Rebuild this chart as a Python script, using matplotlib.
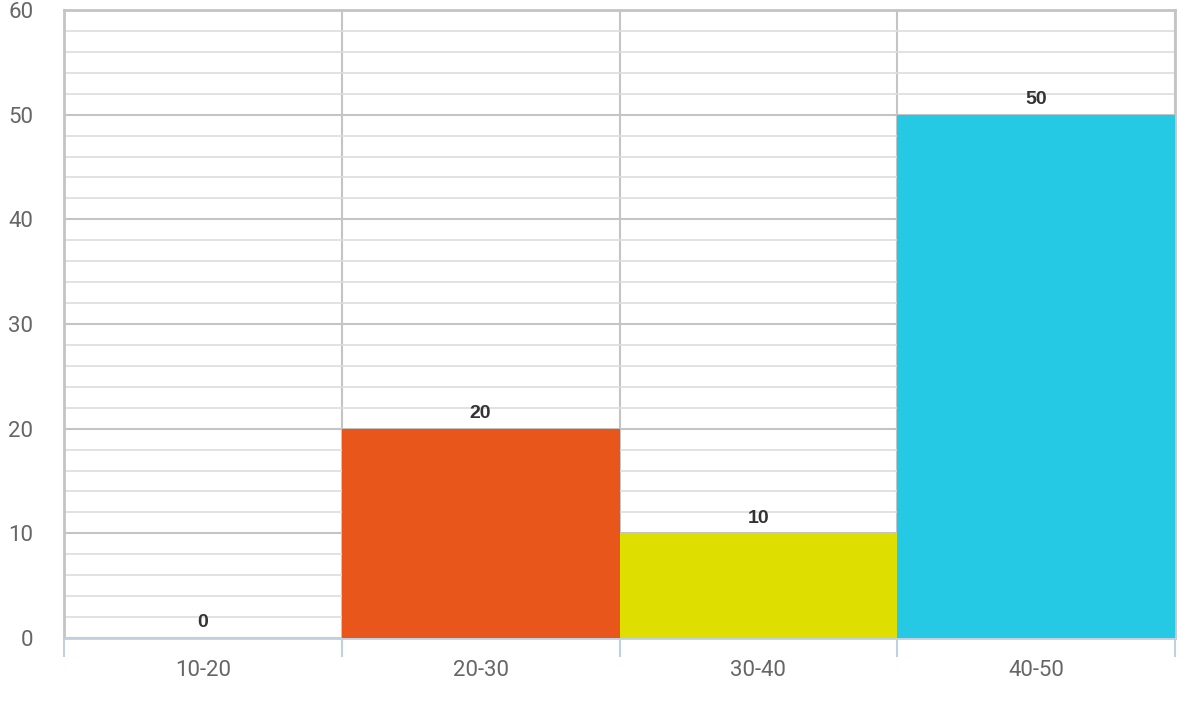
import matplotlib.pyplot as plt
import numpy as np

categories = ['10-20', '20-30', '30-40', '40-50']
values = [0, 20, 10, 50]
bar_colors = ['#c9dbe8', '#e9561c', '#dede00', '#25c9e3']

fig = plt.figure(figsize=(11.87, 7.01), dpi=100)
ax = fig.add_axes([64 / 1187, 1 - 638 / 701, (1175 - 64) / 1187, (638 - 10) / 701])

x = np.arange(len(categories))
bars = ax.bar(x, values, width=1.0, color=bar_colors, zorder=3, linewidth=0)

# value labels above each bar
for xi, v in zip(x, values):
    ax.annotate(str(v), (xi, v), xytext=(0, 11), textcoords='offset points',
                ha='center', va='center', fontsize=14, fontweight='bold',
                color='#333333', family='Liberation Sans', zorder=4)

ax.set_xlim(-0.5, len(categories) - 0.5)
ax.set_ylim(0, 60)

ax.set_yticks(np.arange(0, 61, 10))
ax.set_yticks(np.arange(0, 61, 2), minor=True)
ax.set_xticks(x)
ax.set_xticklabels(categories)
ax.set_xticks(np.arange(-0.5, len(categories)), minor=True)

ax.grid(axis='y', which='major', color='#c4c4c4', linewidth=1.5, zorder=0)
ax.grid(axis='y', which='minor', color='#dddddd', linewidth=1.2, zorder=0)
ax.grid(axis='x', which='minor', color='#c4c4c4', linewidth=1.5, zorder=0)

ax.tick_params(axis='y', which='both', length=0, pad=22, labelsize=16, labelcolor='#666666')
ax.tick_params(axis='x', which='major', length=0, pad=16, labelsize=16, labelcolor='#666666')
ax.tick_params(axis='x', which='minor', length=14, width=1.5, color='#c0d0e0')
for lbl in ax.get_xticklabels() + ax.get_yticklabels():
    lbl.set_fontfamily('Roboto')
for lbl in ax.get_yticklabels():
    lbl.set_horizontalalignment('right')

for side in ['left', 'top', 'right']:
    ax.spines[side].set_color('#c4c4c4')
    ax.spines[side].set_linewidth(2)
ax.spines['bottom'].set_color('#c0d0e0')
ax.spines['bottom'].set_linewidth(2)
ax.set_axisbelow(True)

fig.savefig('out.png', dpi=100)
